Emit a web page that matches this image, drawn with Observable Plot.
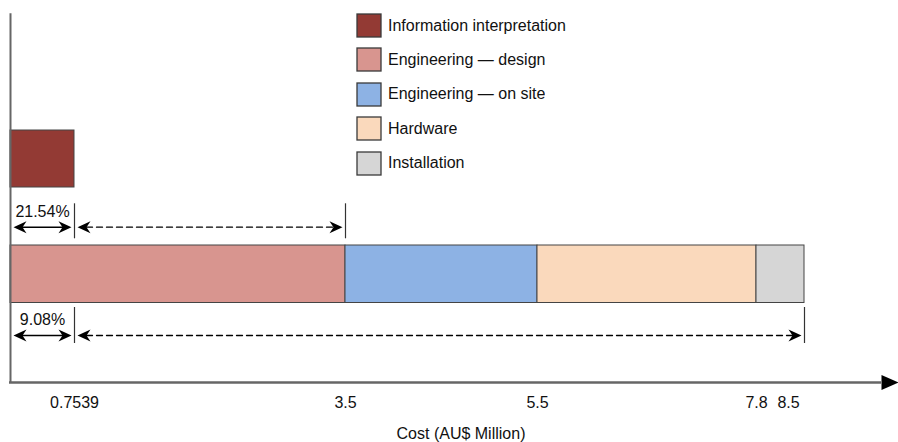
<!DOCTYPE html>
<html><head><meta charset="utf-8">
<script src="https://cdn.jsdelivr.net/npm/d3@7"></script>
<script src="https://cdn.jsdelivr.net/npm/@observablehq/plot@0.6"></script>
<style>
body{margin:0;background:#fff;}
#wrap{position:relative;width:898px;height:442px;overflow:hidden;}
#legend{position:absolute;left:357px;top:14px;}
.lg-swatch{padding-bottom:11.4px;}
.lg-swatch > svg{margin-right:7px;}
.lg-swatch rect{stroke:#3a3a3a;stroke-width:1.3px;}
.lg-swatch-label{color:#111;}
</style></head><body><div id="wrap"><div id="chart"></div><div id="legend"></div></div>
<script>
// ---- data ----
const categories = ["Information interpretation", "Engineering — design", "Engineering — on site", "Hardware", "Installation"];
const colors = ["#933a34", "#d8958f", "#8db2e4", "#fad9bc", "#d6d6d6"];
const segStart = [0, 0, 3.5, 5.5, 7.8];
const segEnd = [0.7539, 3.5, 5.5, 7.8, 8.5];
const segRow = ["Information", "Total", "Total", "Total", "Total"];
const tickValues = [0.7539, 3.5, 5.5, 7.8, 8.5];
const tickLabels = ["0.7539", "3.5", "5.5", "7.8", "8.5"];
const shareLabels = ["21.54%", "9.08%"];
const sharePart = [0.7539, 0.7539];
const shareTotal = [3.5, 8.5];
const shareRow = ["Information", "Total"];
const axisTitle = "Cost (AU$ Million)";

// ---- layout ----
const FONT = "'Liberation Sans', Arial, Helvetica, sans-serif";
const barBand = {Information: [19.5, 25.2], Total: [7.95, 13.7]};
const annot = {
  Information: {arrowY: 15.53, r1: 14.37, r2: 17.87, labelY: 17.1},
  Total: {arrowY: 4.7, r1: 3.9, r2: 7.5, labelY: 6.3}
};

const bars = segStart.map((s, i) => ({category: categories[i], x1: s, x2: segEnd[i], y1: barBand[segRow[i]][0], y2: barBand[segRow[i]][1]}));
const shares = shareLabels.map((t, i) => ({txt: t, part: sharePart[i], total: shareTotal[i], ...annot[shareRow[i]]}));

const headR = {draw(ctx) {ctx.moveTo(0, 0); ctx.lineTo(-13, -6); ctx.lineTo(-9, 0); ctx.lineTo(-13, 6); ctx.closePath();}};
const headL = {draw(ctx) {ctx.moveTo(0, 0); ctx.lineTo(13, -6); ctx.lineTo(9, 0); ctx.lineTo(13, 6); ctx.closePath();}};
const axisHead = {draw(ctx) {ctx.moveTo(0, -7.5); ctx.lineTo(17, 0); ctx.lineTo(0, 7.5); ctx.closePath();}};

const chart = Plot.plot({
  width: 898, height: 442,
  marginLeft: 9, marginRight: 17, marginTop: 0, marginBottom: 60,
  style: {fontFamily: FONT, fontSize: "16px", color: "#111", background: "#fff"},
  x: {type: "linear", domain: [0, ...tickValues], range: [10, 74, 345, 537, 756, 804], axis: null},
  y: {type: "linear", domain: [0, 38.2], axis: null},
  color: {domain: categories, range: colors},
  marks: [
    Plot.rect(bars, {x1: "x1", x2: "x2", y1: "y1", y2: "y2", fill: "category", stroke: "#444", strokeWidth: 1}),
    Plot.ruleX(shares, {x: "part", y1: "r1", y2: "r2", stroke: "#333", strokeWidth: 1.2}),
    Plot.ruleX(shares, {x: "total", y1: "r1", y2: "r2", stroke: "#333", strokeWidth: 1.2}),
    Plot.arrow(shares, {x1: d => 0, x2: "part", y1: "arrowY", y2: "arrowY", headLength: 0, insetStart: 8, insetEnd: 8, stroke: "#000", strokeWidth: 1.4}),
    Plot.arrow(shares, {x1: "part", x2: "total", y1: "arrowY", y2: "arrowY", headLength: 0, insetStart: 12, insetEnd: 12, stroke: "#000", strokeWidth: 1.3, strokeDasharray: "6,4"}),
    Plot.dot(shares, {x: d => 0, y: "arrowY", symbol: headL, dx: 3, fill: "#000", stroke: "none", r: 5}),
    Plot.dot(shares, {x: "part", y: "arrowY", symbol: headR, dx: -3, fill: "#000", stroke: "none", r: 5}),
    Plot.dot(shares, {x: "part", y: "arrowY", symbol: headL, dx: 3, fill: "#000", stroke: "none", r: 5}),
    Plot.dot(shares, {x: "total", y: "arrowY", symbol: headR, dx: -3, fill: "#000", stroke: "none", r: 5}),
    Plot.text(shares, {x: d => d.part / 2, y: "labelY", text: "txt", fontSize: 16, lineAnchor: "middle", fill: "#111"}),
    Plot.ruleY([0], {stroke: "#666", strokeWidth: 2.5}),
    Plot.ruleX([0], {y1: d => 0, y2: d => 36.87, stroke: "#666", strokeWidth: 2}),
    Plot.dot([0], {y: d => d, frameAnchor: "right", symbol: axisHead, fill: "#000", stroke: "none", r: 5}),
    Plot.text(tickValues.slice(0, -1), {x: d => d, y: d => -2.05, text: (d, i) => tickLabels[i], fontSize: 16, lineAnchor: "middle", fill: "#111"}),
    Plot.text(tickValues.slice(-1), {x: d => d, y: d => -2.05, text: () => tickLabels[tickLabels.length - 1], dx: -16, fontSize: 16, lineAnchor: "middle", fill: "#111"}),
    Plot.text([axisTitle], {frameAnchor: "bottom", lineAnchor: "middle", dy: 51, dx: 15.5, fontSize: 16, fill: "#111"})
  ]
});
document.getElementById("chart").append(chart);

const legend = Plot.legend({
  color: {type: "ordinal", domain: categories, range: colors},
  legend: "swatches", columns: 1, swatchWidth: 24, swatchHeight: 23, className: "lg",
  style: {fontFamily: FONT, fontSize: "16px", color: "#111"}
});
document.getElementById("legend").append(legend);
</script></body></html>
